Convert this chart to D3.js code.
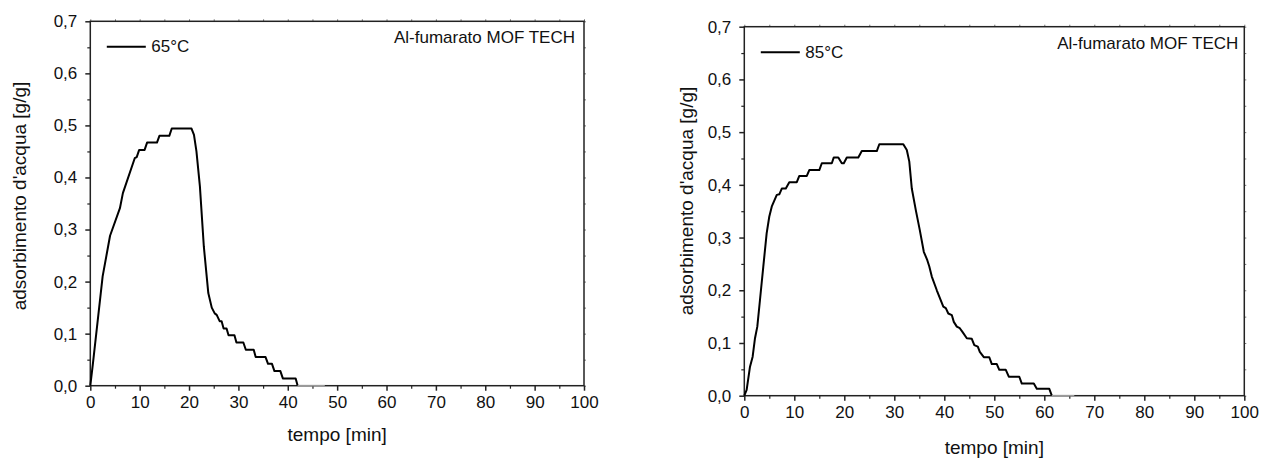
<!DOCTYPE html>
<html>
<head>
<meta charset="utf-8">
<script src="https://cdn.jsdelivr.net/npm/d3@7/dist/d3.min.js"></script>
<style>
  html, body { margin: 0; padding: 0; background: #fff; }
  svg { display: block; font-family: "Liberation Sans", Arial, sans-serif; }
</style>
</head>
<body>
<svg id="chart" width="1271" height="461"></svg>
<script>
// ---------- data ----------
const xTicks = [0, 10, 20, 30, 40, 50, 60, 70, 80, 90, 100];
const yTicks = [0, 0.1, 0.2, 0.3, 0.4, 0.5, 0.6, 0.7];
const xTitle = "tempo [min]";
const yTitle = "adsorbimento d'acqua [g/g]";
const annotation = "Al-fumarato MOF TECH";
const seriesNames = ["65°C", "85°C"];

const time65 = [0, 0.5, 2.5, 4.0, 6.0, 6.6, 9.0, 9.4, 9.9, 11.0, 11.5, 13.5, 14.0, 16.0, 16.5, 20.5, 21.0, 21.5, 22.2, 23.0, 23.9, 24.6, 25.2, 25.6, 26.2, 26.6, 27.0, 27.6, 28.0, 29.2, 29.6, 31.0, 31.5, 33.1, 33.5, 35.5, 36.0, 36.8, 37.3, 38.5, 39.0, 41.6, 42.0, 47.5];
const water65 = [0, 0.040, 0.210, 0.288, 0.341, 0.370, 0.437, 0.439, 0.453, 0.453, 0.467, 0.467, 0.480, 0.480, 0.494, 0.494, 0.482, 0.450, 0.383, 0.267, 0.178, 0.150, 0.139, 0.136, 0.124, 0.124, 0.110, 0.110, 0.097, 0.097, 0.083, 0.083, 0.069, 0.069, 0.055, 0.055, 0.042, 0.042, 0.028, 0.028, 0.014, 0.014, 0, 0];

const time85 = [0, 0.47, 1.14, 1.67, 2.14, 2.6, 3.14, 3.8, 4.47, 5.0, 5.5, 6.5, 7.0, 7.5, 8.3, 9.0, 10.5, 11.0, 12.5, 13.0, 15.0, 15.5, 17.5, 17.9, 18.8, 19.5, 19.9, 20.5, 22.8, 23.5, 26.5, 27.0, 31.8, 32.5, 33.0, 33.5, 34.3, 35.1, 35.9, 36.6, 37.0, 37.5, 38.5, 39.8, 40.3, 40.8, 41.5, 41.9, 42.5, 43.1, 43.7, 44.5, 45.5, 46.0, 46.7, 47.1, 47.9, 49.0, 49.5, 50.5, 51.0, 52.3, 52.9, 55.0, 55.5, 57.9, 58.5, 61.0, 61.5, 66.0];
const water85 = [0, 0.011, 0.055, 0.074, 0.109, 0.131, 0.182, 0.245, 0.308, 0.340, 0.359, 0.381, 0.382, 0.393, 0.393, 0.405, 0.405, 0.417, 0.417, 0.428, 0.428, 0.441, 0.441, 0.452, 0.452, 0.441, 0.441, 0.452, 0.452, 0.464, 0.464, 0.477, 0.477, 0.466, 0.444, 0.393, 0.352, 0.314, 0.273, 0.257, 0.245, 0.226, 0.200, 0.169, 0.166, 0.156, 0.153, 0.140, 0.131, 0.128, 0.120, 0.109, 0.108, 0.096, 0.093, 0.083, 0.073, 0.073, 0.060, 0.060, 0.049, 0.049, 0.036, 0.036, 0.023, 0.023, 0.013, 0.013, 0, 0];

// ---------- layout ----------
const panels = [
  { t: time65, w: water65, name: seriesNames[0],
    left: 90.3, right: 584, top: 21.3, bottom: 385.7,
    yTitleX: 19, yTitleY: 196, xTitleY: 441, annoGap: 9 },
  { t: time85, w: water85, name: seriesNames[1],
    left: 744.3, right: 1244.3, top: 26.7, bottom: 395.7,
    yTitleX: 686, yTitleY: 201, xTitleY: 454, annoGap: 6 }
];

const svg = d3.select("#chart");
const fmtY = d => d3.format(".1f")(d).replace(".", ",");
const FONT = "Liberation Sans, Arial, sans-serif";

panels.forEach(p => {
  const x = d3.scaleLinear().domain([0, 100]).range([p.left, p.right]);
  const y = d3.scaleLinear().domain([0, 0.7]).range([p.bottom, p.top]);
  const g = svg.append("g");

  const minorX = d3.range(5, 100, 10);
  const minorY = d3.range(0.05, 0.7, 0.1);

  // top & right small ticks
  g.append("g").attr("transform", `translate(0,${p.top})`)
    .call(d3.axisTop(x).tickValues(xTicks.concat(minorX)).tickSize(2).tickFormat(""))
    .call(s => s.selectAll("line").attr("stroke", "#777"))
    .call(s => s.select(".domain").remove());
  g.append("g").attr("transform", `translate(${p.right},0)`)
    .call(d3.axisRight(y).tickValues(yTicks.concat(minorY)).tickSize(2).tickFormat(""))
    .call(s => s.selectAll("line").attr("stroke", "#777"))
    .call(s => s.select(".domain").remove());

  // frame
  g.append("rect").attr("x", x(0)).attr("y", y(0.7))
    .attr("width", x(100) - x(0)).attr("height", y(0) - y(0.7))
    .attr("fill", "none").attr("stroke", "#222").attr("stroke-width", 1.5);

  // bottom axis
  const bx = g.append("g").attr("transform", `translate(0,${p.bottom})`)
    .call(d3.axisBottom(x).tickValues(xTicks).tickSize(5).tickPadding(5).tickFormat(d3.format("d")));
  bx.select(".domain").remove();
  bx.selectAll("line").attr("stroke", "#222").attr("stroke-width", 1.5);
  bx.selectAll("text").attr("font-size", 17).attr("fill", "#111").attr("font-family", FONT);
  g.append("g").attr("transform", `translate(0,${p.bottom})`)
    .call(d3.axisBottom(x).tickValues(minorX).tickSize(3).tickFormat(""))
    .call(s => s.select(".domain").remove())
    .call(s => s.selectAll("line").attr("stroke", "#222").attr("stroke-width", 1.2));

  // left axis
  const ly = g.append("g").attr("transform", `translate(${p.left},0)`)
    .call(d3.axisLeft(y).tickValues(yTicks).tickSize(5).tickPadding(8).tickFormat(fmtY));
  ly.select(".domain").remove();
  ly.selectAll("line").attr("stroke", "#222").attr("stroke-width", 1.5);
  ly.selectAll("text").attr("font-size", 17).attr("fill", "#111").attr("font-family", FONT);
  g.append("g").attr("transform", `translate(${p.left},0)`)
    .call(d3.axisLeft(y).tickValues(minorY).tickSize(3).tickFormat(""))
    .call(s => s.select(".domain").remove())
    .call(s => s.selectAll("line").attr("stroke", "#222").attr("stroke-width", 1.2));

  // titles
  g.append("text").attr("x", (p.left + p.right) / 2).attr("y", p.xTitleY)
    .attr("text-anchor", "middle").attr("font-size", 19).attr("fill", "#111").text(xTitle);
  g.append("text").attr("transform", `translate(${p.yTitleX},${p.yTitleY}) rotate(-90)`)
    .attr("text-anchor", "middle").attr("dominant-baseline", "central")
    .attr("font-size", 19).attr("fill", "#111").text(yTitle);

  // annotation
  g.append("text").attr("x", p.right - p.annoGap).attr("y", p.top + 22)
    .attr("text-anchor", "end").attr("font-size", 17).attr("fill", "#111").text(annotation);

  // data line
  const pts = p.t.map((t, i) => [t, p.w[i]]);
  let lastNZ = 0;
  pts.forEach((d, i) => { if (d[1] > 0) lastNZ = i; });
  const main = pts.slice(0, lastNZ + 2);
  const tail = pts.slice(lastNZ + 1);
  const line = d3.line().x(d => x(d[0])).y(d => y(d[1]));
  g.append("path").attr("d", line(main)).attr("fill", "none")
    .attr("stroke", "#000").attr("stroke-width", 2).attr("stroke-linejoin", "round");
  g.append("path").attr("d", line(tail)).attr("fill", "none")
    .attr("stroke", "#9a9a9a").attr("stroke-width", 1.5);

  // legend
  const lx = p.left + 16.5, lyy = p.top + 25.5;
  g.append("line").attr("x1", lx).attr("x2", lx + 39).attr("y1", lyy).attr("y2", lyy)
    .attr("stroke", "#000").attr("stroke-width", 2);
  g.append("text").attr("x", lx + 44.5).attr("y", lyy).attr("dominant-baseline", "central")
    .attr("font-size", 17).attr("fill", "#111").text(p.name);
});
</script>
</body>
</html>
